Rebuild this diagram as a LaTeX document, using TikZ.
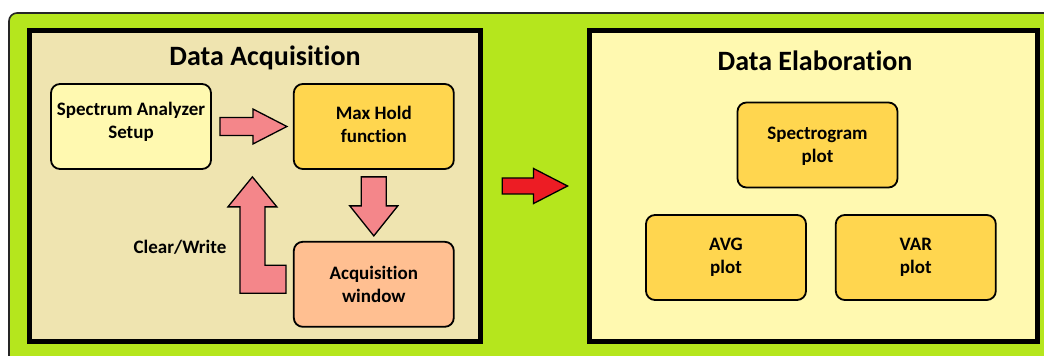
\documentclass[tikz,border=0pt]{standalone}
\usepackage{fontspec}
\setmainfont{Carlito}[Ligatures=NoCommon]
\usepackage{tikz}
\usetikzlibrary{positioning,calc}
\usepackage{xcolor}
\definecolor{mygreen}{HTML}{B5E61D}
\definecolor{mytan}{HTML}{EFE4B0}
\definecolor{mylight}{HTML}{FFF9B0}
\definecolor{mygold}{HTML}{FFD64F}
\definecolor{mypeach}{HTML}{FFBF91}
\definecolor{mypink}{HTML}{F4868A}
\definecolor{myred}{HTML}{ED1C24}
\tikzstyle{block}=[draw=black,line width=1.8pt,rounded corners=9pt,minimum width=160pt,minimum height=85pt,align=center,inner sep=2pt,font=\bfseries\fontsize{19}{23}\selectfont]
\tikzstyle{panel}=[draw=black,line width=5pt,inner sep=0pt]
\tikzstyle{title}=[anchor=base,font=\bfseries\fontsize{28}{34}\selectfont]
\tikzstyle{barrow}=[draw=black,line width=1.3pt,fill=mypink,line join=miter]

\begin{document}
\begin{tikzpicture}[x=1pt,y=1pt]
\useasboundingbox (0,0) rectangle (1044,356);
\filldraw[fill=mygreen,draw=black!85,line width=1.6pt,rounded corners=8pt] (9,-20) rectangle (1070,343);

% the two panels
\node[panel,fill=mytan,minimum width=451.5pt,minimum height=311.5pt] (acqpanel) at (255,170) {};
\node[panel,fill=mylight,minimum width=448.5pt,minimum height=311.5pt] (elabpanel) at (813.3,170) {};

\node[title] (acqtitle) at (265,290) {Data Acquisition};
\node[title] (elabtitle) at (815,285.5) {Data Elaboration};

% acquisition loop
\node[block,fill=mylight,text depth=12pt] (setup) at (131,229.5) {Spectrum Analyzer\\Setup};
\node[block,fill=mygold,text depth=5pt,right=81pt of setup] (maxhold) {Max Hold\\function};
\node[block,fill=mypeach,below=71pt of maxhold] (acqwin) {Acquisition\\window};

\node[font=\bfseries\fontsize{19}{23}\selectfont] (clrw) at (180,109) {Clear/Write};

\path (setup.east) ++(8,0) coordinate (r1) (maxhold.west) ++(-6,0) coordinate (r2);
\draw[barrow] ($(r1)+(0,9)$) -- ($(r2)+(-34,9)$) -- ($(r2)+(-34,17.5)$) -- (r2)
  -- ($(r2)+(-34,-17.5)$) -- ($(r2)+(-34,-9)$) -- ($(r1)+(0,-9)$) -- cycle;

\path (maxhold.south) ++(0,-7) coordinate (d1) (acqwin.north) ++(0,5) coordinate (d2);
\draw[barrow] ($(d1)+(-12.5,0)$) -- ($(d2)+(-12.5,30)$) -- ($(d2)+(-24,30)$) -- (d2)
  -- ($(d2)+(24,30)$) -- ($(d2)+(12.5,30)$) -- ($(d1)+(12.5,0)$) -- cycle;

\path ($(setup.south east)!0.5!(maxhold.south west)$) ++(0,-7) coordinate (u1)
  (acqwin.west) ++(-7,0) coordinate (u2);
\draw[barrow] (u1) -- ++(24.5,-30) -- ++(-12,0) |- ($(u2)+(0,19)$) -- ($(u2)+(0,-9)$)
  -| ($(u1)+(-12.5,-30)$) -- ++(-12,0) -- cycle;

% to elaboration
\path (acqpanel.east) ++(19,0) coordinate (a1) (elabpanel.west) ++(-19,0) coordinate (a2);
\draw[barrow,fill=myred] ($(a1)+(0,8)$) -- ($(a2)+(-34,8)$) -- ($(a2)+(-34,17.5)$) -- (a2)
  -- ($(a2)+(-34,-17.5)$) -- ($(a2)+(-34,-8)$) -- ($(a1)+(0,-8)$) -- cycle;

% plots
\node[block,fill=mygold,text depth=0pt] (spectro) at (817.5,211) {Spectrogram\\plot};
\node[block,fill=mygold] (avg) at (726,98.5) {AVG\\plot};
\node[block,fill=mygold,right=28pt of avg] (var) {VAR\\plot};

\end{tikzpicture}
\end{document}
